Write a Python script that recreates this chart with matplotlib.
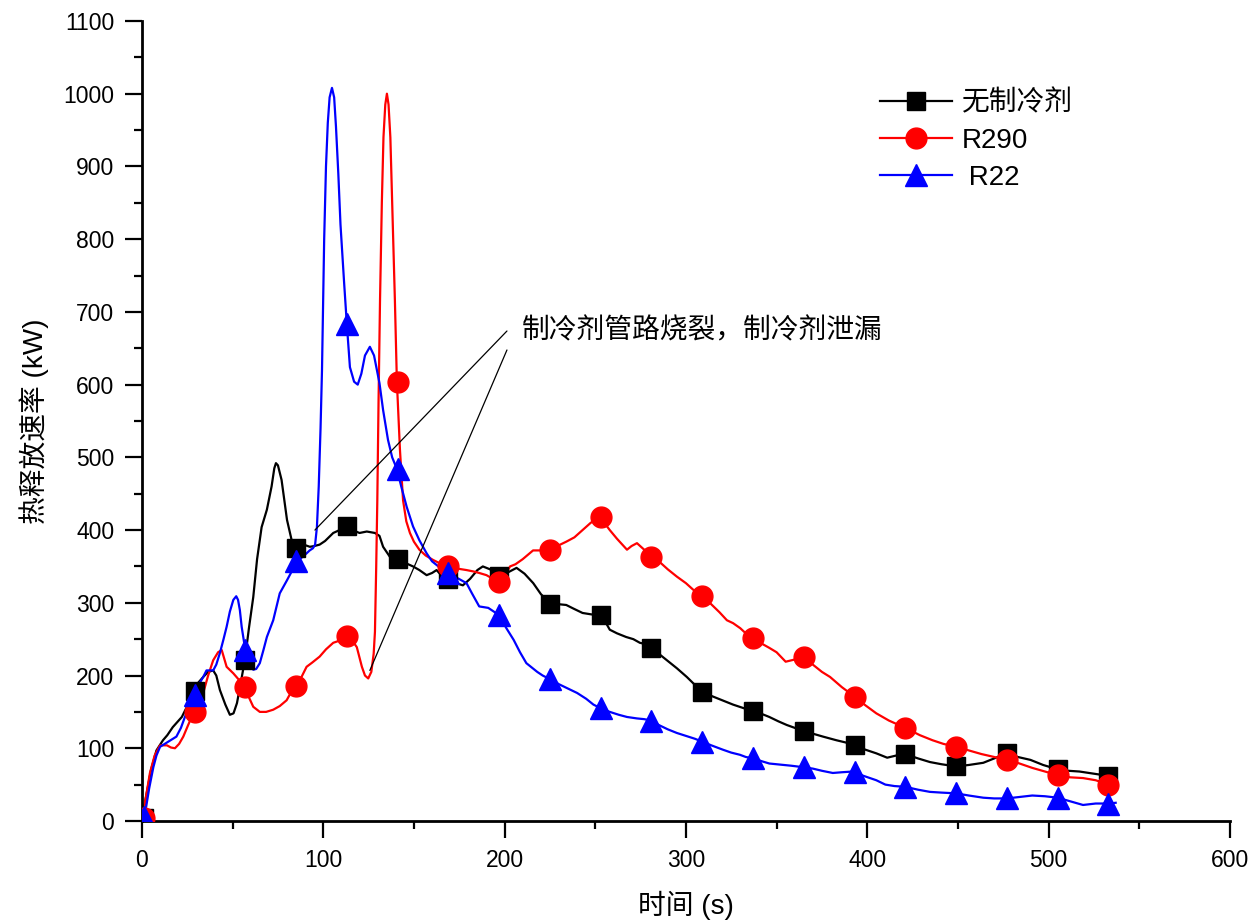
import numpy as np
import matplotlib
matplotlib.use('Agg')
import matplotlib.pyplot as plt
from matplotlib.lines import Line2D
from matplotlib.ticker import MultipleLocator

# Font setup: Latin text in an Arial-like face, Chinese falls back to Noto CJK
plt.rcParams['font.family'] = ['Liberation Sans', 'Noto Sans CJK SC']

# Heat release rate curves, (time s, HRR kW)
black_curve = [(0, 0), (2, 30), (5, 70), (8, 97), (11.6, 111), (14, 118), (17, 129), (22, 143),
               (25, 158), (28.7, 179), (31, 190), (33.8, 198), (36.5, 205), (39.3, 207), (41, 200),
               (43, 180), (46, 160), (48.5, 146), (50.5, 148), (52.4, 162), (54.5, 190), (56.8, 222),
               (59, 265), (61.4, 308), (63.5, 360), (66, 404), (68.9, 428), (71.5, 460), (73, 485),
               (73.9, 492), (75, 489), (77, 469), (80, 414), (83.4, 377), (85.3, 376), (88, 381), (92.6, 377),
               (95, 378), (98, 380), (101, 385), (105.5, 396), (109, 400), (113, 405), (116, 400),
               (120, 396), (124, 398), (128.5, 396), (131, 392), (133, 377), (136.8, 363), (141, 360),
               (145, 355), (149.5, 350), (153, 345), (157, 338), (160, 341), (162.5, 345), (165, 338),
               (168, 333), (172, 328), (177, 324), (181, 333), (185, 345), (188, 350), (192, 346),
               (197, 337), (202, 342), (206.6, 348), (211, 340), (215.8, 327), (220, 312), (225, 299),
               (230, 298), (234, 297), (238, 292), (243, 286), (248, 284), (253.5, 283), (258, 263),
               (262, 258), (267, 253), (271, 250), (274.6, 245), (278, 243), (281, 238), (285, 230),
               (289.5, 221), (295, 210), (300.5, 198), (305, 187), (309, 178), (313, 173), (317, 169),
               (322, 164), (326, 160), (332, 155), (337, 151), (342, 147), (346, 143), (351, 137),
               (355.6, 132), (360, 128), (364.5, 124), (370, 120), (375.6, 116), (383, 111), (388, 108),
               (393, 104), (399, 98), (405, 93), (411, 87), (416, 90), (421, 92), (428, 86), (434.6, 81),
               (441, 78), (449, 75), (456, 77), (464, 80), (470, 86), (477, 93), (483, 88), (490, 84),
               (497, 77), (505, 71), (511, 69), (517, 68), (525, 65), (533, 62), (537, 60)]

red_curve = [(0, 0), (2, 30), (4.4, 66), (7, 90), (10, 104), (13.8, 104), (16, 101), (18.2, 100),
             (20.5, 106), (22.8, 116), (25.5, 132), (28.7, 150), (31, 160), (33.8, 176), (36.5, 200),
             (39.3, 221), (42, 232), (44, 235), (46.7, 212), (50.4, 203), (53.5, 194), (57, 184),
             (59, 170), (61.4, 157), (65, 150), (68.5, 150), (72.4, 153), (76, 158), (79.8, 166),
             (82, 176), (85, 185), (88, 198), (90.8, 212), (94, 218), (98, 226), (101.5, 236),
             (105.5, 245), (109, 248), (113, 255), (115.5, 250), (118.5, 239), (121.3, 212), (123, 200),
             (124.8, 196), (126.5, 205), (127.8, 230), (128.5, 260), (129.2, 350), (129.8, 440),
             (130.5, 580), (131.3, 716), (132.3, 850), (133.2, 940), (134.2, 985), (135.1, 1000),
             (136, 985), (137, 940), (138, 850), (139.5, 716), (140.6, 604), (142.3, 510), (144, 441),
             (145.8, 412), (147.8, 396), (150, 384), (153, 373), (156.5, 365), (160.5, 359), (164.5, 354),
             (168.8, 351), (174, 347), (179, 345), (183, 343), (186, 341), (190, 338), (193.5, 333),
             (196.5, 328), (200, 337), (203, 350), (206, 353), (210, 360), (215.7, 372), (220, 372),
             (225, 372), (229, 378), (234, 384), (238.5, 390), (243, 400), (247.5, 410), (252.6, 418),
             (255, 410), (258, 400), (262, 388), (267.5, 373), (270, 378), (273, 382), (277, 373),
             (281, 363), (286, 355), (290, 346), (295, 336), (300, 327), (304, 318), (309, 310),
             (314, 298), (318.5, 287), (322.6, 276), (326, 272), (330, 265), (333, 258), (337, 252),
             (341, 245), (346, 238), (350, 232), (355, 219), (360, 222), (365, 226), (370, 215),
             (375, 205), (379.5, 198), (386, 184), (393, 171), (399, 159), (405, 148), (412, 138),
             (421, 128), (429, 118), (436, 111), (442, 106), (449, 102), (456, 97), (463, 92),
             (470, 88), (477, 84), (484, 79), (491, 73), (498, 68), (505, 63), (512, 60), (519, 59),
             (526, 56), (533, 50), (537, 48)]

blue_curve = [(0, 0), (1.7, 10), (4, 45), (6.3, 74), (8, 90), (10, 102), (14.5, 109), (19, 116),
              (21.5, 128), (23.7, 143), (26, 158), (28.7, 173), (31, 186), (33.8, 198), (35.6, 207),
              (39.3, 207), (41, 215), (43, 231), (45, 250), (46.7, 267), (48.5, 288), (50.4, 304),
              (52, 309), (53, 304), (54, 290), (55, 267), (57, 235), (59, 218), (61.4, 208), (63, 209),
              (65, 217), (67, 235), (68.9, 253), (72.4, 276), (76, 313), (80, 331), (83, 345),
              (85.3, 358), (88, 362), (90.8, 368), (92.5, 372), (94.3, 375), (95.5, 380), (96.5, 404),
              (97.5, 460), (98.5, 540), (99.3, 620), (100.5, 800), (101.5, 900), (102.5, 960),
              (103.5, 995), (104.8, 1008), (106, 995), (107, 955), (108.3, 890), (109.5, 820),
              (111.5, 740), (113, 683), (114.7, 624), (117, 604), (119, 600), (121, 615), (123, 640),
              (125.7, 652), (128, 640), (131, 602), (133, 565), (135.7, 524), (138, 500), (140.6, 484),
              (143, 460), (146, 432), (149.5, 405), (153, 386), (157, 368), (160, 357), (164, 349),
              (169, 341), (174, 334), (179, 327), (182, 313), (186, 295), (191, 293), (194, 288),
              (197, 283), (201, 265), (205, 249), (208.5, 232), (212, 217), (218, 205), (221, 200),
              (225, 195), (230, 188), (235, 182), (240, 176), (245, 168), (249, 160), (253, 155),
              (258, 150), (263, 146), (267.5, 143), (273, 141), (277, 140), (281, 138), (285, 132),
              (290, 126), (295, 121), (300, 117), (305, 113), (309, 109), (314, 104), (320.4, 98),
              (325, 94), (329.8, 91), (333, 88), (337, 86), (342, 82), (346, 79), (350, 78),
              (353.5, 77), (358, 76), (364.5, 74), (370, 72), (375, 69), (381, 66), (386, 67),
              (392, 68), (398, 62), (405, 56), (410, 50), (415, 48), (421, 47), (428, 43),
              (434.6, 40), (441, 39), (449, 38), (456, 35), (464, 32), (470, 31), (477, 31),
              (484, 33), (491, 35), (498, 34), (505, 32), (512, 27), (519, 22), (526, 24),
              (533, 24), (537, 25)]

# Symbol positions (Origin puts a symbol every ~28 s)
marker_t = [1, 29, 57, 85, 113, 141, 169, 197, 225, 253, 281, 309, 337, 365, 393, 421, 449, 477, 505, 533]
black_marks = [4, 179, 222, 376, 405, 360, 333, 337, 299, 283, 238, 178, 151, 124, 104, 92, 75, 93, 71, 62]
red_marks = [4, 150, 184, 185, 255, 604, 351, 328, 372, 418, 363, 310, 252, 226, 171, 128, 102, 84, 63, 50]
blue_marks = [6, 173, 235, 358, 683, 484, 341, 283, 195, 155, 138, 109, 86, 74, 68, 47, 38, 31, 32, 24]

labels = ['无制冷剂', 'R290', ' R22']
colors = ['black', 'red', 'blue']
symbols = ['s', 'o', '^']
sizes = [13, 15, 16]

fig = plt.figure(figsize=(12.55, 9.24), dpi=100)
ax = fig.add_axes([0.1131, 0.1115, 0.8669, 0.8658])

curves = [black_curve, red_curve, blue_curve]
marks = [black_marks, red_marks, blue_marks]
handles = []
for curve, mk, lab, c, sym, ms in zip(curves, marks, labels, colors, symbols, sizes):
    arr = np.array(curve)
    ax.plot(arr[:, 0], arr[:, 1], color=c, lw=1.6, zorder=2)
    ax.plot(marker_t, mk, ls='none', marker=sym, ms=ms, color=c, zorder=3)
    handles.append(Line2D([], [], color=c, lw=1.6, marker=sym, ms=ms, label=lab))

# Axes styling (Origin-like: only left/bottom axes, outward ticks)
ax.set_xlim(0, 600)
ax.set_ylim(0, 1100)
for s in ['top', 'right']:
    ax.spines[s].set_visible(False)
for s in ['left', 'bottom']:
    ax.spines[s].set_linewidth(2)
ax.xaxis.set_major_locator(MultipleLocator(100))
ax.xaxis.set_minor_locator(MultipleLocator(50))
ax.yaxis.set_major_locator(MultipleLocator(100))
ax.yaxis.set_minor_locator(MultipleLocator(50))
ax.tick_params(which='major', direction='out', length=12, width=1.6, labelsize=16.5, pad=8)
ax.tick_params(which='minor', direction='out', length=6, width=1.6)

ax.set_xlabel('时间 (s)', fontsize=20, labelpad=14)
ax.set_ylabel('热释放速率 (kW)', fontsize=20, labelpad=10)

ax.legend(handles=handles, loc='upper left', bbox_to_anchor=(0.655, 0.945), frameon=False,
          fontsize=20, handlelength=2.6, labelspacing=0.4, handletextpad=0.35)

# Annotation about the refrigerant pipe rupture
ax.text(209.6, 673.7, '制冷剂管路烧裂，制冷剂泄漏', fontsize=20, va='center', ha='left')
ax.annotate('', xy=(95.4, 400), xytext=(201.3, 673.7), textcoords='data',
            arrowprops=dict(arrowstyle='-', color='black', lw=0.9, shrinkA=0, shrinkB=0))
ax.annotate('', xy=(125.7, 207), xytext=(201.3, 647.6), textcoords='data',
            arrowprops=dict(arrowstyle='-', color='black', lw=0.9, shrinkA=0, shrinkB=0))

fig.savefig('out.png', dpi=100)
